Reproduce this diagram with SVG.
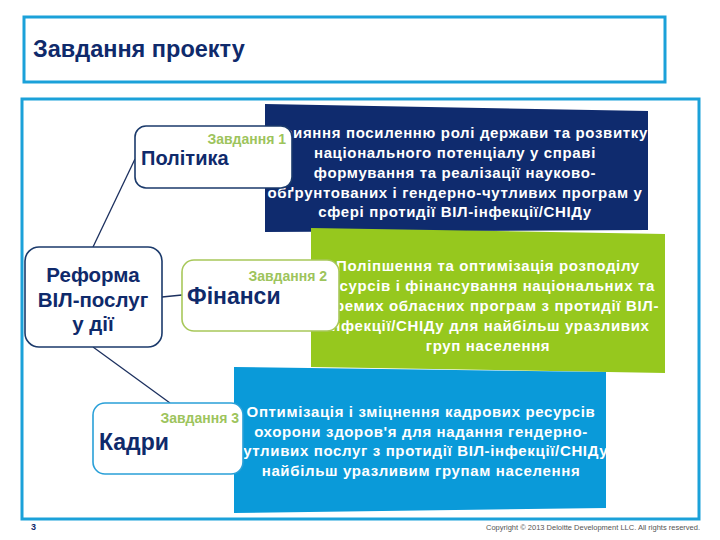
<svg xmlns="http://www.w3.org/2000/svg" width="720" height="540" viewBox="0 0 720 540">
<style>
.frame{fill:none;stroke:#1ba1d9;stroke-width:3}
.node{fill:#ffffff;stroke-width:1.6}
.box{font-family:"Liberation Sans",Arial,sans-serif;font-weight:bold;font-size:15px;letter-spacing:0.65px;fill:#ffffff;text-anchor:middle}
.lbl{font-family:"Liberation Sans",Arial,sans-serif;font-weight:bold;fill:#0f2a6b}
.task{font-family:"Liberation Sans",Arial,sans-serif;font-weight:bold;font-size:14px;fill:#9dc45c;text-anchor:end}
.conn{stroke:#1b2f5e;stroke-width:1.3;fill:none}
</style>
<rect width="720" height="540" fill="#ffffff"/>
<rect class="frame" x="24" y="17" width="641" height="65"/>
<text x="33" y="57" font-family="'Liberation Sans',Arial,sans-serif" font-weight="bold" font-size="23.5" fill="#0f2a6b">Завдання проекту</text>
<rect class="frame" x="22" y="99" width="677" height="420"/>

<g id="box1">
<polygon points="265,104 648,111 648,230 265,232" fill="#0f2b6e"/>
<text class="box"><tspan x="455" y="138">Сприяння посиленню ролі держави та розвитку</tspan><tspan x="455" y="158">національного потенціалу у справі</tspan><tspan x="455" y="178">формування та реалізації науково-</tspan><tspan x="455" y="198">обґрунтованих і гендерно-чутливих програм у</tspan><tspan x="455" y="217">сфері протидії ВІЛ-інфекції/СНІДу</tspan></text>
</g>
<g id="box2">
<polygon points="311,228 665,234 665,373 311,367" fill="#96c81e"/>
<text class="box"><tspan x="488" y="271">Поліпшення та оптимізація розподілу</tspan><tspan x="488" y="291">ресурсів і фінансування національних та</tspan><tspan x="488" y="311">окремих обласних програм з протидії ВІЛ-</tspan><tspan x="488" y="331">інфекції/СНІДу для найбільш уразливих</tspan><tspan x="488" y="351">груп населення</tspan></text>
</g>
<g id="box3">
<polygon points="234,367 606,372 606,508 234,513" fill="#0a9ad9"/>
<text class="box"><tspan x="421" y="417">Оптимізація і зміцнення кадрових ресурсів</tspan><tspan x="421" y="437">охорони здоров'я для надання гендерно-</tspan><tspan x="421" y="456">чутливих послуг з протидії ВІЛ-інфекції/СНІДу</tspan><tspan x="421" y="476">найбільш уразливим групам населення</tspan></text>
</g>

<g id="connectors">
<line class="conn" x1="93" y1="247" x2="135" y2="159"/>
<line class="conn" x1="162" y1="297" x2="182" y2="295"/>
<line class="conn" x1="93" y1="347" x2="170" y2="403"/>
</g>

<g id="node-reforma">
<rect class="node" x="25" y="247" width="137" height="100" rx="14" stroke="#1b3a6b"/>
<text class="lbl" font-size="20.5" text-anchor="middle"><tspan x="93" y="282">Реформа</tspan><tspan x="93" y="307">ВІЛ-послуг</tspan><tspan x="93" y="331">у дії</tspan></text>
</g>
<g id="node-polityka">
<rect class="node" x="135" y="126" width="157" height="62" rx="11" stroke="#1b3a6b"/>
<text x="286" y="144" class="task">Завдання 1</text>
<text x="141" y="165" class="lbl" font-size="20">Політика</text>
</g>
<g id="node-finansy">
<rect class="node" x="182" y="260" width="157" height="71" rx="12" stroke="#a8c85a"/>
<text x="327" y="281" class="task">Завдання 2</text>
<text x="187" y="304" class="lbl" font-size="23">Фінанси</text>
</g>
<g id="node-kadry">
<rect class="node" x="93" y="403" width="150" height="71" rx="12" stroke="#2aa0d8"/>
<text x="239" y="423" class="task">Завдання 3</text>
<text x="99" y="450" class="lbl" font-size="23">Кадри</text>
</g>

<text x="31" y="530" font-family="Liberation Sans,Arial,sans-serif" font-weight="bold" font-size="9" fill="#0f2a6b">3</text>
<text x="700" y="530" font-family="Liberation Sans,Arial,sans-serif" font-size="7.5" fill="#555555" text-anchor="end">Copyright © 2013 Deloitte Development LLC. All rights reserved.</text>
</svg>
